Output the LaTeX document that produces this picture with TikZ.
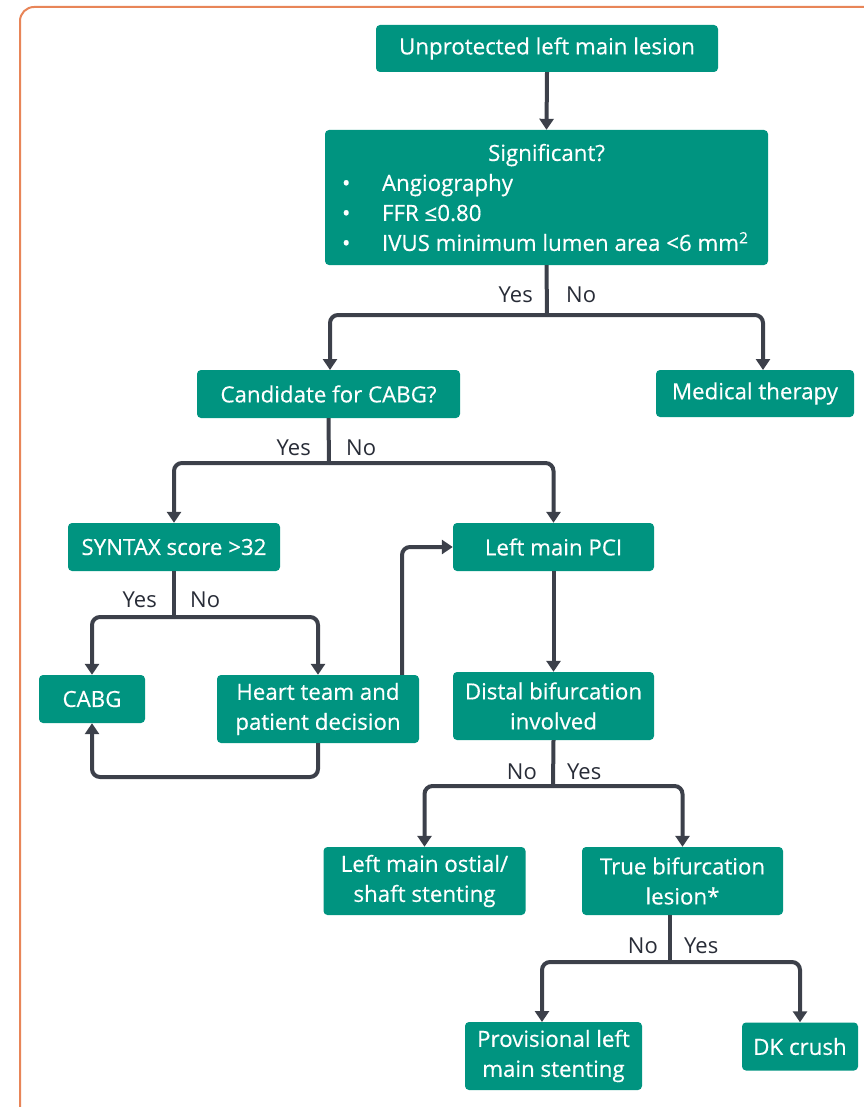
\documentclass[tikz,border=0pt]{standalone}
\usepackage{fontspec}
\setmainfont{Open Sans}
\newfontfamily\boxfont{Open Sans}[FakeBold=0.4]
\usetikzlibrary{arrows.meta}
\definecolor{teal}{RGB}{0,148,128}
\definecolor{linec}{RGB}{60,64,74}
\definecolor{framec}{RGB}{232,133,88}
\definecolor{labc}{RGB}{40,44,55}
\tikzset{
  box/.style={fill=teal, rounded corners=4pt, text=white, align=center, inner sep=0pt,
    font=\boxfont\fontsize{22.3}{30}\selectfont},
  conn/.style={draw=linec, line width=4pt, rounded corners=8pt},
  arr/.style={conn, -{Triangle[length=11pt,width=14pt]}},
  lab/.style={text=labc, inner sep=0pt, font=\fontsize{22}{24}\selectfont},
  frame/.style={draw=framec, line width=2pt, rounded corners=14pt}
}
\begin{document}
\begin{tikzpicture}[x=1pt,y=-1pt]
\useasboundingbox (0,0) rectangle (863,1107);
\draw[frame] (20,7) rectangle (890,1122);

\node[box, minimum width=342pt, minimum height=47pt] (u) at (547,48.5) {Unprotected left main lesion};
\node[box, minimum width=443pt, minimum height=135pt] (sig) at (546.5,197.5) {%
  \begin{minipage}{436pt}\boxfont\fontsize{22.3}{30}\selectfont
  \centering Significant?\par\raggedright
  \hspace*{13.5pt}\makebox[40pt][l]{\textbullet}Angiography\par
  \hspace*{13.5pt}\makebox[40pt][l]{\textbullet}FFR ≤0.80\par
  \hspace*{13.5pt}\makebox[40pt][l]{\textbullet}IVUS minimum lumen area <6 mm\textsuperscript{2}\par
  \end{minipage}};
\node[box, minimum width=263pt, minimum height=48pt] (cand) at (328.5,394) {Candidate for CABG?};
\node[box, minimum width=198pt, minimum height=47pt] (med) at (755,393.5) {Medical therapy};
\node[box, minimum width=212pt, minimum height=48pt] (syn) at (174,547) {SYNTAX score >32};
\node[box, minimum width=201pt, minimum height=48pt] (pci) at (553.5,547) {Left main PCI};
\node[box, minimum width=106pt, minimum height=48pt] (cabg) at (92,699) {CABG};
\node[box, minimum width=202pt, minimum height=68pt] (heart) at (318,709) {Heart team and\\patient decision};
\node[box, minimum width=201pt, minimum height=68pt] (dist) at (553.5,706) {Distal bifurcation\\involved};
\node[box, minimum width=202pt, minimum height=68pt] (ost) at (424.5,881) {Left main ostial/\\shaft stenting};
\node[box, minimum width=201pt, minimum height=68pt] (trueb) at (682.5,881) {True bifurcation\\lesion*};
\node[box, minimum width=177pt, minimum height=68pt] (prov) at (553.5,1056) {Provisional left\\main stenting};
\node[box, minimum width=116pt, minimum height=48pt] (dk) at (800,1046.5) {DK crush};

% junctions
\coordinate (j1) at (547,315);
\coordinate (j2) at (329,463);
\coordinate (j3) at (174,617);
\coordinate (j4) at (553,786);
\coordinate (j5) at (670,962);
\coordinate (hl) at (318,777);
\coordinate (hu) at (402,548);

\draw[arr] (u.south) -- (sig.north);
\draw[conn] (sig.south) -- (j1);
\draw[arr] (j1) -| (330,370) coordinate (c1t);
\draw[arr] (j1) -| (763,370) coordinate (m1t);
\node[lab, anchor=east] (y1) at (533,295) {Yes};
\node[lab, anchor=west] (n1) at (566,295) {No};

\draw[conn] (cand.south) -- (j2);
\draw[arr] (j2) -| (syn.north);
\draw[arr] (j2) -| (pci.north);
\node[lab, anchor=east] (y2) at (311,448) {Yes};
\node[lab, anchor=west] (n2) at (346,448) {No};

\draw[conn] (syn.south) -- (j3);
\draw[arr] (j3) -| (cabg.north);
\draw[arr] (j3) -| (heart.north);
\node[lab, anchor=east] (y3) at (157,600) {Yes};
\node[lab, anchor=west] (n3) at (190,600) {No};

\draw[arr] (heart.south) -- (hl) -| (cabg.south);
\draw[arr] (heart.north -| hu) |- (pci.west);

\draw[arr] (pci.south) -- (dist.north);
\draw[conn] (dist.south) -- (j4);
\draw[arr] (j4) -| (ost.north);
\draw[arr] (j4) -| (trueb.north);
\node[lab, anchor=east] (n4) at (537,772) {No};
\node[lab, anchor=west] (y4) at (567,772) {Yes};

\draw[conn] (trueb.south -| j5) -- (j5);
\draw[arr] (j5) -| (542,1022);
\draw[arr] (j5) -| (dk.north);
\node[lab, anchor=east] (n5) at (658,946) {No};
\node[lab, anchor=west] (y5) at (684,946) {Yes};
\end{tikzpicture}
\end{document}
